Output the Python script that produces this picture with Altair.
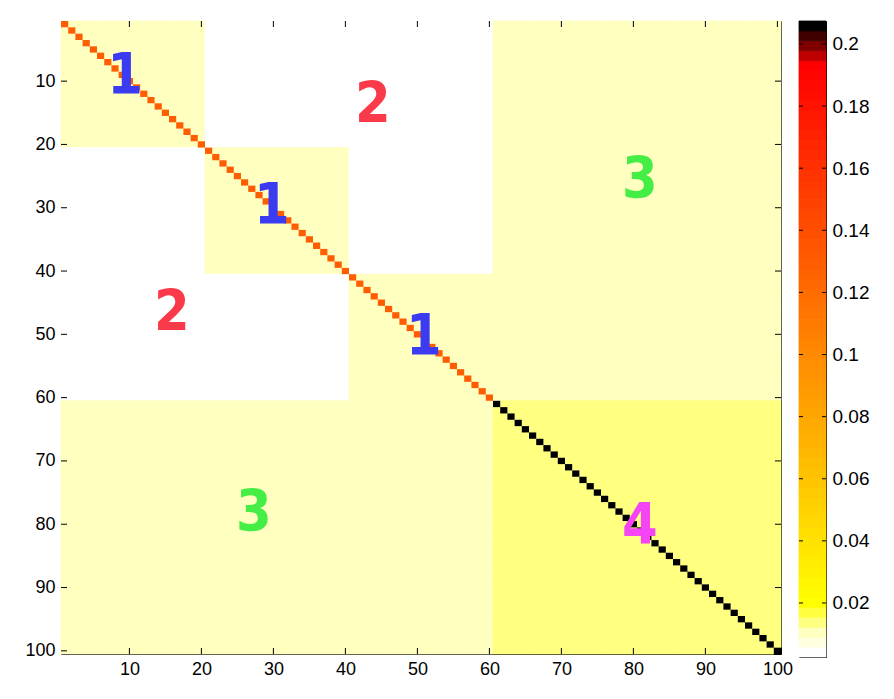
import altair as alt
import pandas as pd

# ---------------- data ----------------
N = 100
group_starts = [1, 21, 41, 61]          # groups: 1-20, 21-40, 41-60, 61-100
group_ends = [20, 40, 60, 100]
v_between_first = 0.003                  # different groups among the first 60 (white)
v_within_first = 0.0105                  # same group among the first 60
v_cross = 0.0105                         # first 60 vs 61-100
v_within_last = 0.0138                   # 61-100 off-diagonal
diag_first = 0.13                        # diagonal 1-60
diag_last = 0.2065                       # diagonal 61-100
vmin, vmax = 0.0026, 0.2074

xticks = [10, 20, 30, 40, 50, 60, 70, 80, 90, 100]
yticks = [10, 20, 30, 40, 50, 60, 70, 80, 90, 100]
cbar_ticks = [0.02, 0.04, 0.06, 0.08, 0.1, 0.12, 0.14, 0.16, 0.18, 0.2]

label_text = ["1", "1", "1", "2", "2", "3", "3", "4"]
label_x = [9.4, 29.8, 50.9, 43.8, 15.9, 80.9, 27.3, 80.9]
label_y = [9.4, 29.9, 50.5, 14.0, 46.8, 25.7, 78.4, 80.5]
label_color = ["#3b3bf2", "#3b3bf2", "#3b3bf2", "#fa3a4a", "#fa3a4a",
               "#44ee44", "#44ee44", "#f444f4"]

# colour map: 64 bands, bottom to top
light_bands = ["#ffffff", "#ffffe0", "#ffffc0", "#ffff80", "#ffff40"]
dark_bands = ["#c00000", "#800000", "#400000", "#000000"]
n_ramp = 64 - len(light_bands) - len(dark_bands)
ramp = ["#ff%02x00" % round(255 * (1 - k / (n_ramp - 1))) for k in range(n_ramp)]
cmap = light_bands + ramp + dark_bands

# ---------------- build tables ----------------
def group_of(i):
    for g, (s, e) in enumerate(zip(group_starts, group_ends)):
        if s <= i <= e:
            return g
    return -1

rows = []
for r in range(1, N + 1):
    gr = group_of(r)
    for c in range(1, N + 1):
        gc = group_of(c)
        if r == c:
            v = diag_last if gr == 3 else diag_first
        elif gr == 3 and gc == 3:
            v = v_within_last
        elif gr == 3 or gc == 3:
            v = v_cross
        elif gr == gc:
            v = v_within_first
        else:
            v = v_between_first
        rows.append({"x0": c - 0.5, "x1": c + 0.5, "y0": r - 0.5, "y1": r + 0.5,
                     "v": v, "d": int(r == c)})
mat = pd.DataFrame(rows)

step = (vmax - vmin) / len(cmap)
bands = pd.DataFrame({
    "lo": [vmin + k * step for k in range(len(cmap))],
    "hi": [vmin + (k + 1) * step for k in range(len(cmap))],
    "mid": [vmin + (k + 0.5) * step for k in range(len(cmap))],
})

labels = pd.DataFrame({"t": label_text, "x": label_x, "y": label_y, "c": label_color})
xt = pd.DataFrame({"t": xticks})
yt = pd.DataFrame({"t": yticks})
ct = pd.DataFrame({"t": cbar_ticks})

W, H = 720, 633
CW, CH = 27, 636
TL = 6  # tick length

color_scale = alt.Scale(type="quantize", domain=[vmin, vmax], range=cmap)
xs = alt.Scale(domain=[0.5, 100.5], nice=False, zero=False)
ys = alt.Scale(domain=[0.5, 100.5], nice=False, zero=False, reverse=True)

lab_font = "Liberation Sans"
axis_common = dict(domain=False, ticks=False, grid=False, labelFont=lab_font,
                   labelColor="black", title=None)

heat_base = alt.Chart(mat).encode(
    x=alt.X("x0:Q", scale=xs, axis=alt.Axis(values=xticks, labelPadding=6, labelFontSize=18,
                                            **axis_common)),
    x2="x1:Q",
    y=alt.Y("y0:Q", scale=ys, axis=alt.Axis(values=yticks, labelPadding=6, labelFontSize=18,
                                            **axis_common)),
    y2="y1:Q",
    color=alt.Color("v:Q", scale=color_scale, legend=None),
)
# off-diagonal cells get a thin stroke of their own colour to hide seams
heat_off = heat_base.mark_rect(strokeWidth=0.8).encode(
    stroke=alt.Stroke("v:Q", scale=color_scale, legend=None)
).transform_filter("datum.d == 0")
heat_diag = heat_base.mark_rect(strokeWidth=0).transform_filter("datum.d == 1")

text_layers = []
for col in dict.fromkeys(label_color):
    text_layers.append(
        alt.Chart(labels).transform_filter(alt.datum.c == col).mark_text(
            font="DejaVu Sans Condensed, DejaVu Sans", fontWeight="bold", fontSize=57,
            align="center", baseline="middle", color=col
        ).encode(
            x=alt.X("x:Q", scale=xs),
            y=alt.Y("y:Q", scale=ys),
            text="t:N",
        )
    )

xb = alt.Chart(xt).mark_rule(color="black", strokeWidth=1).encode(
    x=alt.X("t:Q", scale=xs), y=alt.value(H), y2=alt.value(H - TL))
xtop = alt.Chart(xt).mark_rule(color="black", strokeWidth=1).encode(
    x=alt.X("t:Q", scale=xs), y=alt.value(0), y2=alt.value(TL))
yl = alt.Chart(yt).mark_rule(color="black", strokeWidth=1).encode(
    y=alt.Y("t:Q", scale=ys), x=alt.value(0), x2=alt.value(TL))
yr = alt.Chart(yt).mark_rule(color="black", strokeWidth=1).encode(
    y=alt.Y("t:Q", scale=ys), x=alt.value(W), x2=alt.value(W - TL))

left = alt.layer(heat_off, heat_diag, *text_layers, xb, xtop, yl, yr).properties(width=W, height=H)

cs = alt.Scale(domain=[vmin, vmax], nice=False, zero=False)
cbar = alt.Chart(bands).mark_rect(strokeWidth=0.8).encode(
    x=alt.value(0), x2=alt.value(CW),
    y=alt.Y("lo:Q", scale=cs, axis=alt.Axis(values=cbar_ticks, orient="right", format=".2~f",
                                            labelPadding=6, labelFontSize=19, **axis_common)),
    y2="hi:Q",
    color=alt.Color("mid:Q", scale=color_scale, legend=None),
    stroke=alt.Stroke("mid:Q", scale=color_scale, legend=None),
)
cl = alt.Chart(ct).mark_rule(color="black", strokeWidth=1).encode(
    y=alt.Y("t:Q", scale=cs), x=alt.value(0), x2=alt.value(4))
cr = alt.Chart(ct).mark_rule(color="black", strokeWidth=1).encode(
    y=alt.Y("t:Q", scale=cs), x=alt.value(CW), x2=alt.value(CW - 4))
right = alt.layer(cbar, cl, cr).properties(width=CW, height=CH)

chart = alt.hconcat(left, right, spacing=5).properties(
    padding={"left": 16, "top": 12, "right": 5, "bottom": 5},
    background="white",
).configure_view(stroke="black", strokeWidth=1)

chart.save("out.html", embed_options={"renderer": "svg", "actions": False})
